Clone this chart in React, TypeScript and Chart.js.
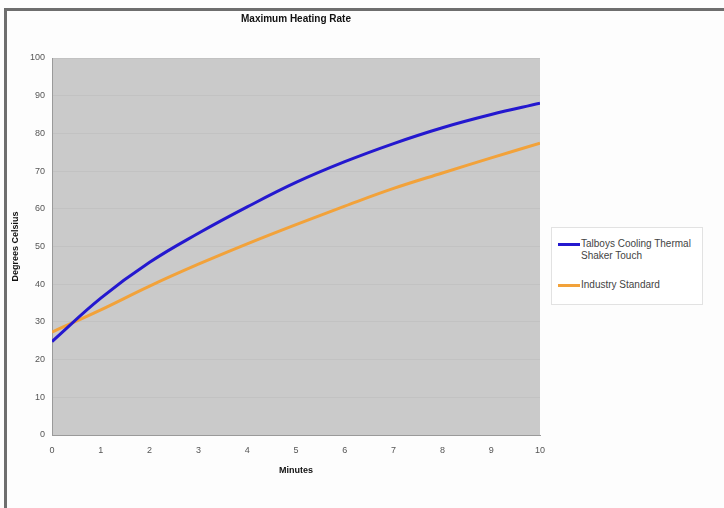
import React, { useEffect, useRef } from "react";
import { Chart, registerables } from "chart.js";
Chart.register(...registerables);

const chartTitle = "Maximum Heating Rate";
const xTitle = "Minutes";
const yTitle = "Degrees Celsius";
const minutes = [0, 1, 2, 3, 4, 5, 6, 7, 8, 9, 10];
const talboys = [24.8, 36.3, 45.8, 53.5, 60.5, 67, 72.5, 77.3, 81.5, 85, 88];
const industry = [27.3, 33.2, 39.5, 45.3, 50.7, 55.8, 60.7, 65.4, 69.5, 73.5, 77.4];
const seriesNames = ["Talboys Cooling Thermal Shaker Touch", "Industry Standard"];
const seriesLegendLines = [["Talboys Cooling Thermal", "Shaker Touch"], ["Industry Standard"]];
const seriesColors = ["#2418cf", "#f2a23a"];
const yMin = 0;
const yMax = 100;
const yStep = 10;
const xMin = 0;
const xMax = 10;
const xStep = 1;

const FONT = "'Liberation Sans', Arial, Helvetica, sans-serif";

const plotBg = {
  id: "plotBg",
  beforeDraw(chart: any) {
    const { ctx, chartArea } = chart;
    if (!chartArea) return;
    ctx.save();
    ctx.fillStyle = "#cacaca";
    ctx.fillRect(chartArea.left, chartArea.top, chartArea.right - chartArea.left, chartArea.bottom - chartArea.top);
    ctx.restore();
  },
};

export default function App() {
  const ref = useRef<HTMLCanvasElement | null>(null);

  useEffect(() => {
    document.body.style.margin = "0";
    const canvas = ref.current;
    if (!canvas) return;
    const series = [talboys, industry];
    const chart = new Chart(canvas, {
      type: "line",
      data: {
        datasets: series.map((vals, i) => ({
          label: seriesNames[i],
          data: minutes.map((m, j) => ({ x: m, y: vals[j] })),
          borderColor: seriesColors[i],
          backgroundColor: seriesColors[i],
          borderWidth: 3,
          pointRadius: 0,
          tension: 0.4,
          fill: false,
        })),
      },
      options: {
        animation: false,
        responsive: false,
        devicePixelRatio: 1,
        layout: { padding: { left: 8, right: 184, top: 9, bottom: 28 } },
        plugins: {
          legend: { display: false },
          tooltip: { enabled: false },
          title: {
            display: true,
            text: chartTitle,
            fullSize: false,
            color: "#111",
            font: { family: FONT, size: 10, weight: "bold" },
            padding: { top: 4, bottom: 33 },
          },
        },
        scales: {
          x: {
            type: "linear",
            min: xMin,
            max: xMax,
            ticks: { stepSize: xStep, color: "#555", font: { family: FONT, size: 9 }, padding: 10, maxRotation: 0 },
            grid: { display: false, drawTicks: false },
            border: { display: true, color: "#9a9a9a" },
            title: {
              display: true,
              text: xTitle,
              color: "#111",
              font: { family: FONT, size: 9, weight: "bold" },
              padding: { top: 2, bottom: 4 },
            },
            afterFit(scale: any) {
              scale.height = 45;
            },
          },
          y: {
            min: yMin,
            max: yMax,
            ticks: { stepSize: yStep, color: "#555", font: { family: FONT, size: 9 }, padding: 7 },
            grid: { color: "#c2c2c2", lineWidth: 1, drawTicks: false },
            border: { display: true, color: "#9a9a9a" },
            title: {
              display: true,
              text: yTitle,
              color: "#111",
              font: { family: FONT, size: 9, weight: "bold" },
              padding: { top: 2, bottom: 0 },
            },
            afterFit(scale: any) {
              scale.width = 44;
            },
          },
        },
      },
      plugins: [plotBg],
    });
    return () => chart.destroy();
  }, []);

  const legendRows = [
    { top: 238, lineY: 244 },
    { top: 279, lineY: 285 },
  ];

  return (
    <div style={{ position: "relative", width: 724, height: 508, background: "#fdfdfd", overflow: "hidden" }}>
      <div
        style={{
          position: "absolute",
          left: 4,
          top: 8,
          width: 900,
          height: 700,
          borderLeft: "3px solid #6e6e6e",
          borderTop: "3px solid #6e6e6e",
          boxSizing: "border-box",
        }}
      />
      <canvas ref={ref} width={724} height={508} style={{ position: "absolute", left: 0, top: 0, width: 724, height: 508 }} />
      <div
        style={{
          position: "absolute",
          left: 551,
          top: 227,
          width: 152,
          height: 78,
          border: "1px solid #e2e2e2",
          background: "#fff",
          boxSizing: "border-box",
        }}
      />
      {seriesLegendLines.map((lines, i) => (
        <React.Fragment key={i}>
          <div
            style={{
              position: "absolute",
              left: 558,
              top: legendRows[i].lineY - 1.5,
              width: 22,
              height: 3,
              background: seriesColors[i],
            }}
          />
          <div
            style={{
              position: "absolute",
              left: 581,
              top: legendRows[i].top,
              fontFamily: FONT,
              fontSize: 10,
              lineHeight: "12px",
              color: "#444",
              whiteSpace: "nowrap",
            }}
          >
            {lines.map((t, k) => (
              <div key={k}>{t}</div>
            ))}
          </div>
        </React.Fragment>
      ))}
    </div>
  );
}
